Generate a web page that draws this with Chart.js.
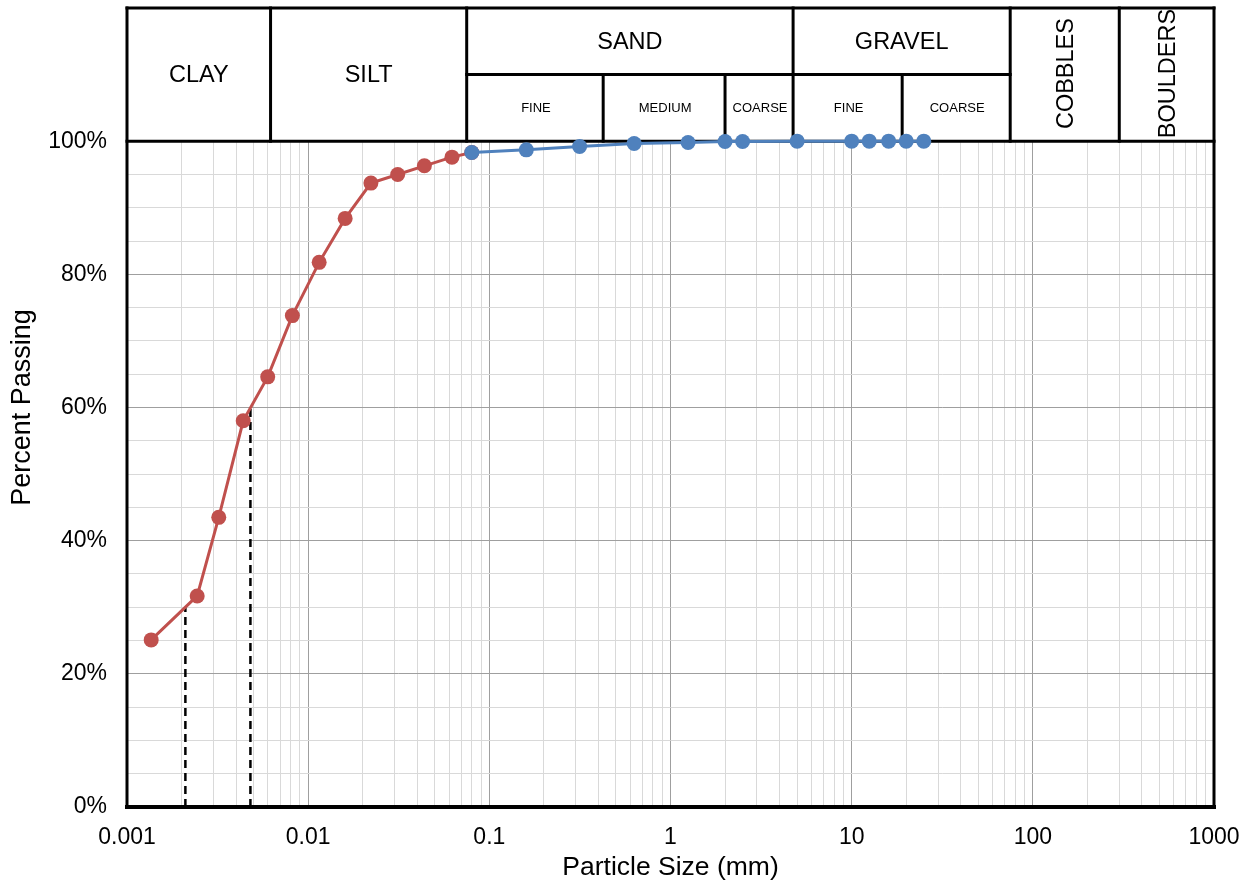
<!DOCTYPE html>
<html>
<head>
<meta charset="utf-8">
<title>Particle Size Distribution</title>
<script src="https://cdn.jsdelivr.net/npm/chart.js@4.4.1/dist/chart.umd.min.js"></script>
<style>
  html, body { margin: 0; padding: 0; background: #ffffff; }
  canvas { display: block; }
</style>
</head>
<body>
<canvas id="gradation" width="1251" height="883"></canvas>
<script>
// Hydrometer analysis (fine fraction), particle size in mm and percent passing
const hydrometerSize = [0.00136, 0.00244, 0.00321, 0.00438, 0.00598, 0.00818, 0.0115, 0.0160, 0.0222, 0.0312, 0.0438, 0.0622, 0.080];
const hydrometerPassing = [25.1, 31.7, 43.5, 58.0, 64.6, 73.8, 81.8, 88.4, 93.7, 95.0, 96.3, 97.6, 98.3];

// Sieve analysis
const sieveSize = [0.080, 0.16, 0.315, 0.63, 1.25, 2.0, 2.5, 5.0, 10, 12.5, 16, 20, 25];
const sievePassing = [98.3, 98.7, 99.2, 99.65, 99.8, 99.95, 99.95, 100, 100, 100, 100, 100, 100];

// Characteristic diameters D30 and D60 (drop lines to the axis)
const characteristicSize = [0.0021, 0.0048];
const characteristicPassing = [30, 60];

// Axis decades and their labels
const decadeValues = [0.001, 0.01, 0.1, 1, 10, 100, 1000];
const xTickLabels = ['0.001', '0.01', '0.1', '1', '10', '100', '1000'];
const yTickValues = [0, 20, 40, 60, 80, 100];
const yTickLabels = ['0%', '20%', '40%', '60%', '80%', '100%'];

// Soil classification bands (particle size limits, mm)
const mainClassNames = ['CLAY', 'SILT', 'SAND', 'GRAVEL', 'COBBLES', 'BOULDERS'];
const mainClassLimits = [0.001, 0.0062, 0.075, 4.75, 75, 300, 1000];
const sandSubNames = ['FINE', 'MEDIUM', 'COARSE'];
const sandSubLimits = [0.075, 0.425, 2.0, 4.75];
const gravelSubNames = ['FINE', 'COARSE'];
const gravelSubLimits = [4.75, 19, 75];

const FONT = '"Liberation Sans", Arial, Helvetica, sans-serif';
const RED = '#C0504D';
const BLUE = '#4F81BD';
const GRID_MAJOR = '#9f9f9f';
const GRID_MINOR = '#d9d9d9';

// Grid positions: 1..9 x each decade
const xGridValues = [];
for (let i = 0; i < decadeValues.length - 1; i++) {
  for (let m = 1; m <= 9; m++) xGridValues.push(+(m * decadeValues[i]).toPrecision(6));
}
xGridValues.push(decadeValues[decadeValues.length - 1]);

function decadeIndex(v) {
  return decadeValues.findIndex(d => Math.abs(Math.log10(v) - Math.log10(d)) < 1e-6);
}

const toPoints = (xs, ys) => xs.map((x, i) => ({ x: x, y: ys[i] }));

function noScalePadding(scale) {
  scale.paddingLeft = 0;
  scale.paddingRight = 0;
  scale.paddingTop = 0;
  scale.paddingBottom = 0;
}

// Header with the classification table plus the outer frame
const classificationHeader = {
  id: 'classificationHeader',
  beforeDatasetsDraw(chart) {
    const { ctx, chartArea: a, scales: { x, y } } = chart;
    const yTop = y.getPixelForValue(120);
    const yMid = y.getPixelForValue(110);
    const yBot = y.getPixelForValue(100);
    const px = v => x.getPixelForValue(v);

    ctx.save();
    ctx.fillStyle = '#ffffff';
    ctx.fillRect(a.left, yTop, a.right - a.left, yBot - yTop);

    ctx.strokeStyle = '#000000';
    ctx.lineWidth = 3;
    ctx.lineCap = 'square';
    const line = (x1, y1, x2, y2) => {
      ctx.beginPath(); ctx.moveTo(x1, y1); ctx.lineTo(x2, y2); ctx.stroke();
    };

    // full-height class dividers
    for (let i = 1; i < mainClassLimits.length - 1; i++) {
      const xx = px(mainClassLimits[i]);
      line(xx, yTop, xx, yBot);
    }
    // row split under SAND and GRAVEL
    line(px(sandSubLimits[0]), yMid, px(gravelSubLimits[gravelSubLimits.length - 1]), yMid);
    // sub-class dividers
    [sandSubLimits, gravelSubLimits].forEach(lims => {
      for (let i = 1; i < lims.length - 1; i++) {
        const xx = px(lims[i]);
        line(xx, yMid, xx, yBot);
      }
    });
    // header base line
    line(a.left, yBot, a.right, yBot);

    // outer frame
    line(a.left, a.top, a.right, a.top);
    line(a.left, a.top, a.left, a.bottom);
    line(a.right, a.top, a.right, a.bottom);
    ctx.lineWidth = 4;
    line(a.left, a.bottom, a.right, a.bottom);

    // labels
    ctx.fillStyle = '#000000';
    ctx.textAlign = 'center';
    ctx.textBaseline = 'middle';
    ctx.font = '23.5px ' + FONT;
    mainClassNames.forEach((name, i) => {
      const cx = (px(mainClassLimits[i]) + px(mainClassLimits[i + 1])) / 2;
      if (name === 'SAND' || name === 'GRAVEL') {
        ctx.fillText(name, cx, (yTop + yMid) / 2 + 1);
      } else if (name === 'COBBLES' || name === 'BOULDERS') {
        ctx.save();
        ctx.translate(cx + 2, (yTop + yBot) / 2 - 1);
        ctx.rotate(-Math.PI / 2);
        ctx.fillText(name, 0, 0);
        ctx.restore();
      } else {
        ctx.fillText(name, cx, (yTop + yBot) / 2 + 1);
      }
    });
    ctx.font = '13px ' + FONT;
    [[sandSubNames, sandSubLimits], [gravelSubNames, gravelSubLimits]].forEach(([names, lims]) => {
      names.forEach((name, i) => {
        const cx = (px(lims[i]) + px(lims[i + 1])) / 2;
        ctx.fillText(name, cx + 1, (yMid + yBot) / 2 + 1);
      });
    });
    ctx.restore();
  }
};

new Chart(document.getElementById('gradation'), {
  type: 'line',
  data: {
    datasets: [
      {
        label: 'Sieve',
        data: toPoints(sieveSize, sievePassing),
        borderColor: BLUE,
        backgroundColor: BLUE,
        borderWidth: 3,
        pointRadius: 7.5,
        pointBorderWidth: 0,
        pointBackgroundColor: BLUE,
        tension: 0,
        clip: false,
        order: 0
      },
      {
        label: 'Hydrometer',
        data: toPoints(hydrometerSize, hydrometerPassing),
        borderColor: RED,
        backgroundColor: RED,
        borderWidth: 3,
        pointRadius: 7.5,
        pointBorderWidth: 0,
        pointBackgroundColor: RED,
        tension: 0,
        clip: false,
        order: 1
      },
      {
        label: 'D30',
        data: [{ x: characteristicSize[0], y: 0 }, { x: characteristicSize[0], y: characteristicPassing[0] }],
        borderColor: '#000000',
        borderWidth: 2.5,
        borderDash: [8, 5],
        pointRadius: 0,
        order: 2
      },
      {
        label: 'D60',
        data: [{ x: characteristicSize[1], y: 0 }, { x: characteristicSize[1], y: characteristicPassing[1] }],
        borderColor: '#000000',
        borderWidth: 2.5,
        borderDash: [8, 5],
        pointRadius: 0,
        order: 2
      }
    ]
  },
  options: {
    responsive: false,
    animation: false,
    devicePixelRatio: 1,
    layout: { padding: { top: 8, right: 37, left: 0, bottom: 0 } },
    plugins: {
      legend: { display: false },
      tooltip: { enabled: false }
    },
    scales: {
      x: {
        type: 'logarithmic',
        min: 0.001,
        max: 1000,
        afterBuildTicks(scale) { scale.ticks = xGridValues.map(v => ({ value: v })); },
        afterFit(scale) { scale.height = 76; noScalePadding(scale); },
        border: { display: false },
        grid: {
          drawTicks: false,
          lineWidth: 1,
          color: c => (c.tick && decadeIndex(c.tick.value) >= 0) ? GRID_MAJOR : GRID_MINOR
        },
        ticks: {
          autoSkip: false,
          maxRotation: 0,
          minRotation: 0,
          padding: 17,
          color: '#000000',
          font: { family: FONT, size: 23 },
          callback: v => { const i = decadeIndex(v); return i >= 0 ? xTickLabels[i] : ''; }
        },
        title: {
          display: true,
          text: 'Particle Size (mm)',
          color: '#000000',
          font: { family: FONT, size: 26.5, lineHeight: 1 },
          padding: { top: 0, bottom: 2 }
        }
      },
      y: {
        type: 'linear',
        min: 0,
        max: 120,
        afterFit(scale) { scale.width = 127; noScalePadding(scale); },
        border: { display: false },
        grid: {
          drawTicks: false,
          lineWidth: 1,
          color: c => {
            const v = c.tick ? c.tick.value : 0;
            if (v > 100) return 'rgba(0,0,0,0)';
            return yTickValues.includes(v) ? GRID_MAJOR : GRID_MINOR;
          }
        },
        ticks: {
          stepSize: 5,
          autoSkip: false,
          padding: 20,
          color: '#000000',
          font: { family: FONT, size: 23 },
          callback: v => { const i = yTickValues.indexOf(v); return i >= 0 ? yTickLabels[i] : ''; }
        },
        title: {
          display: true,
          text: 'Percent Passing',
          color: '#000000',
          font: { family: FONT, size: 27, lineHeight: 1 },
          padding: { top: 9, bottom: 0 }
        }
      }
    }
  },
  plugins: [classificationHeader]
});
</script>
</body>
</html>
